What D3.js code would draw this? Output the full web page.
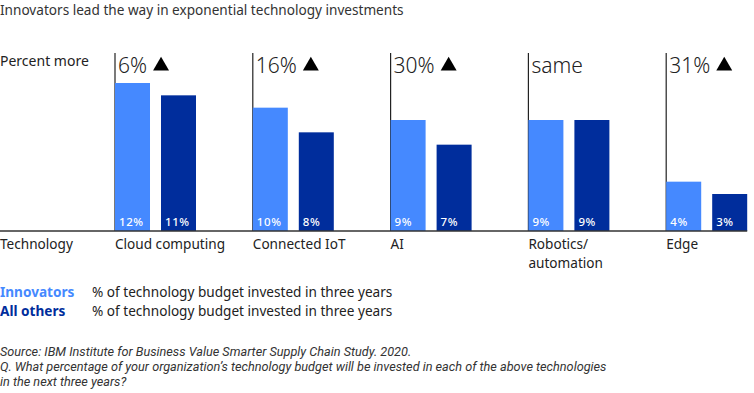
<!DOCTYPE html>
<html>
<head>
<meta charset="utf-8">
<script src="https://cdn.jsdelivr.net/npm/d3@7"></script>
<style>
  body { margin: 0; background: #fff; }
  svg { font-family: "Noto Sans", "Open Sans", sans-serif; }
</style>
</head>
<body>
<div id="chart"></div>
<script>
// data
const categories = ["Cloud computing", "Connected IoT", "AI", "Robotics/\nautomation", "Edge"];
const innovators = [12, 10, 9, 9, 4];
const allOthers = [11, 8, 7, 9, 3];
const percentMore = ["6%", "16%", "30%", "same", "31%"];
const showArrow = [true, true, true, false, true];
const legendText = "% of technology budget invested in three years";

const width = 754, height = 393;
const lightBlue = "#4589ff", darkBlue = "#002d9c";

const svg = d3.select("#chart")
  .append("svg")
  .attr("width", width)
  .attr("height", height);

const baseY = 231;

let x = d3.scaleBand()
  .domain(categories)
  .range([115, 115 + 5 * 137.8])
  .paddingInner(0);

let xSub = d3.scaleBand()
  .domain(["inn", "oth"])
  .range([0, 81])
  .paddingInner(0.239);

let y = d3.scaleLinear()
  .domain([0, 12])
  .range([baseY, 83]);

// title
svg.append("text")
  .attr("x", 0).attr("y", 15)
  .attr("font-size", "13.6px")
  .attr("fill", "#333")
  .text("Innovators lead the way in exponential technology investments");

svg.append("text")
  .attr("x", 0).attr("y", 66)
  .attr("font-size", "14px")
  .attr("fill", "#222")
  .text("Percent more");

svg.append("text")
  .attr("x", 0).attr("y", 249)
  .attr("font-size", "13.6px")
  .attr("fill", "#222")
  .text("Technology");

const groups = svg.selectAll(".grp")
  .data(categories)
  .enter()
  .append("g")
  .attr("class", "grp")
  .attr("transform", d => `translate(${x(d)},0)`);

// vertical separator line
groups.append("line")
  .attr("x1", 0).attr("x2", 0)
  .attr("y1", 53).attr("y2", baseY)
  .attr("stroke", "#222")
  .attr("stroke-width", 1.2);

// bars
groups.append("rect")
  .attr("x", xSub("inn"))
  .attr("y", (d, i) => y(innovators[i]))
  .attr("width", xSub.bandwidth())
  .attr("height", (d, i) => baseY - y(innovators[i]))
  .attr("fill", lightBlue);

groups.append("rect")
  .attr("x", xSub("oth"))
  .attr("y", (d, i) => y(allOthers[i]))
  .attr("width", xSub.bandwidth())
  .attr("height", (d, i) => baseY - y(allOthers[i]))
  .attr("fill", darkBlue);

// value labels inside bars
groups.append("text")
  .attr("x", xSub("inn") + 4)
  .attr("y", baseY - 5)
  .attr("font-size", "11.5px")
  .attr("font-weight", 500)
  .attr("fill", "#fff")
  .attr("letter-spacing", "0.6px")
  .text((d, i) => innovators[i] + "%");

groups.append("text")
  .attr("x", xSub("oth") + 4)
  .attr("y", baseY - 5)
  .attr("font-size", "11.5px")
  .attr("font-weight", 500)
  .attr("fill", "#fff")
  .attr("letter-spacing", "0.6px")
  .text((d, i) => allOthers[i] + "%");

// percent more headers
const head = groups.append("text")
  .attr("x", 3)
  .attr("y", 73)
  .attr("font-size", "21px")
  .attr("font-weight", 300)
  .attr("fill", "#222")
  .text((d, i) => percentMore[i]);

// filled up-triangles after the header text
head.each(function(d, i) {
  if (!showArrow[i]) return;
  const w = this.getComputedTextLength();
  d3.select(this.parentNode).append("path")
    .attr("d", d3.symbol(d3.symbolTriangle, 110)())
    .attr("transform", `translate(${3 + w + 14},${66})`)
    .attr("fill", "#000");
});

// category labels
groups.append("text")
  .attr("x", 0)
  .attr("y", 249)
  .attr("font-size", "13.6px")
  .attr("fill", "#222")
  .selectAll("tspan")
  .data(d => d.split("\n"))
  .enter()
  .append("tspan")
  .attr("x", 0)
  .attr("dy", (d, i) => i === 0 ? 0 : 18.6)
  .text(d => d);

// baseline
svg.append("line")
  .attr("x1", 0).attr("x2", x(categories[4]) + 81)
  .attr("y1", baseY).attr("y2", baseY)
  .attr("stroke", "#333")
  .attr("stroke-width", 1.5);

// legend
const legend = [["Innovators", lightBlue], ["All others", darkBlue]];
legend.forEach((l, i) => {
  svg.append("text")
    .attr("x", 0).attr("y", 297 + i * 18.6)
    .attr("font-size", "13.6px")
    .attr("font-weight", "bold")
    .attr("fill", l[1])
    .text(l[0]);
  svg.append("text")
    .attr("x", 92).attr("y", 297 + i * 18.6)
    .attr("font-size", "13.6px")
    .attr("fill", "#222")
    .text(legendText);
});

// source notes
const notes = [
  "Source: IBM Institute for Business Value Smarter Supply Chain Study. 2020.",
  "Q. What percentage of your organization\u2019s technology budget will be invested in each of the above technologies",
  "in the next three years?"
];
svg.selectAll(".note")
  .data(notes)
  .enter()
  .append("text")
  .attr("class", "note")
  .attr("x", 0)
  .attr("y", (d, i) => 356 + i * 15)
  .attr("font-family", "Roboto, sans-serif")
  .attr("font-size", "12.7px")
  .attr("font-style", "italic")
  .attr("fill", "#333")
  .text(d => d);
</script>
</body>
</html>
